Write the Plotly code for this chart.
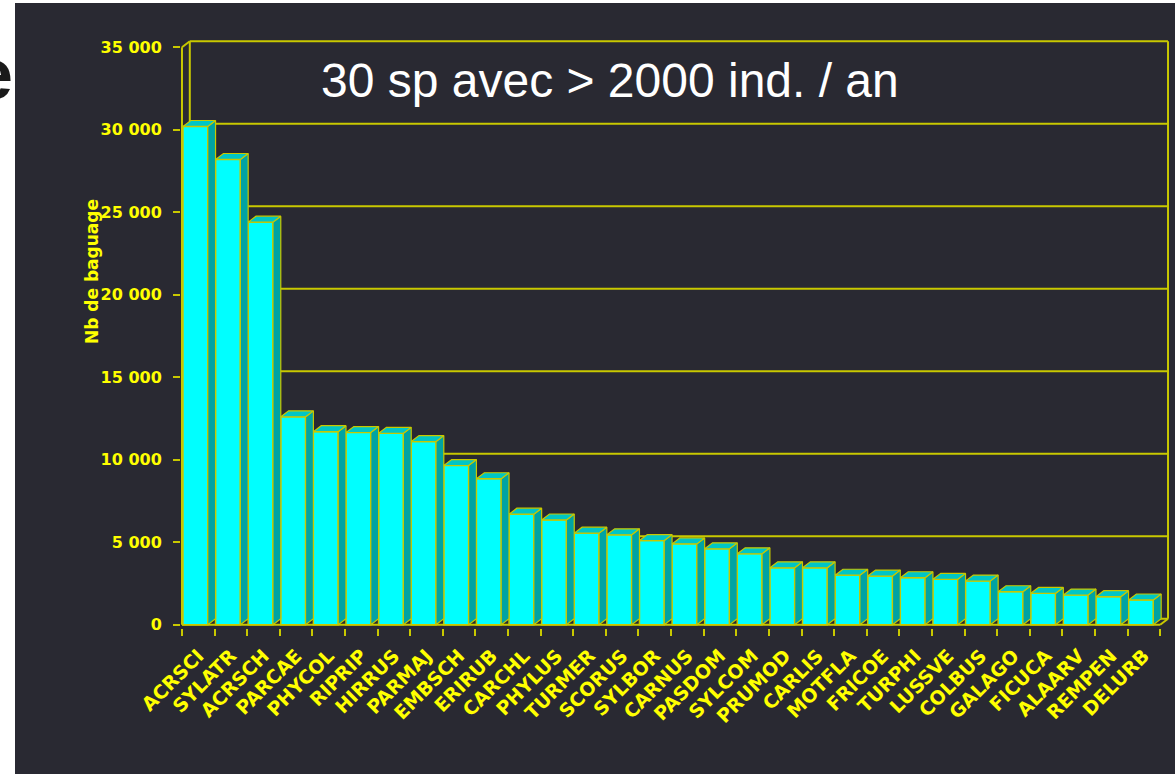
import plotly.graph_objects as go

species = ["ACRSCI", "SYLATR", "ACRSCH", "PARCAE", "PHYCOL", "RIPRIP", "HIRRUS", "PARMAJ",
           "EMBSCH", "ERIRUB", "CARCHL", "PHYLUS", "TURMER", "SCORUS", "SYLBOR", "CARNUS",
           "PASDOM", "SYLCOM", "PRUMOD", "CARLIS", "MOTFLA", "FRICOE", "TURPHI", "LUSSVE",
           "COLBUS", "GALAGO", "FICUCA", "ALAARV", "REMPEN", "DELURB"]
counts = [30200, 28200, 24400, 12600, 11700, 11650, 11600, 11100,
          9650, 8850, 6700, 6350, 5550, 5450, 5100, 4900,
          4600, 4300, 3450, 3450, 3000, 2950, 2850, 2750,
          2650, 2000, 1900, 1800, 1700, 1500]
y_ticks = [0, 5000, 10000, 15000, 20000, 25000, 30000, 35000]
y_tick_text = ["0", "5 000", "10 000", "15 000", "20 000", "25 000", "30 000", "35 000"]

title_text = "30 sp avec > 2000 ind. / an"
y_title = "Nb de baguage"

BG = "#292932"
YEL = "#ffff00"
EDGE = "#c8c800"
CYAN = "#00ffff"
SIDE = "#00a3a3"
TOP = "#00c6c6"

W, H = 1175, 774
ML, MR, MT, MB = 181, 6, 38, 146

n = len(species)
xs = list(range(n))
DX, DY = 0.24, 360          # depth offset in data units
BW, OFF = 0.76, -0.47       # bar width and offset inside slot
YMAX = y_ticks[-1]

x_lo, x_hi = -0.5, n - 0.5
xr = [x_lo - 0.03, x_hi + DX + 0.03]
yr = [-200, YMAX + DY + 200]

def px_x(p):
    return (p - ML) / (W - ML - MR)

def px_y(p):
    return (H - MB - p) / (H - MT - MB)

def seg(x0, y0, x1, y1, width=2):
    return dict(type="line", xref="x", yref="y", x0=x0, y0=y0, x1=x1, y1=y1,
                line=dict(color=EDGE, width=width), layer="below")

shapes = [
    dict(type="rect", xref="paper", yref="paper", x0=px_x(0), x1=px_x(15), y0=px_y(H), y1=px_y(0),
         fillcolor="white", line=dict(width=0), layer="below"),
    dict(type="rect", xref="paper", yref="paper", x0=px_x(0), x1=px_x(W), y0=px_y(3), y1=px_y(0),
         fillcolor="white", line=dict(width=0), layer="below"),
]
# back wall grid lines with left-wall diagonals
for t in y_ticks:
    shapes.append(seg(x_lo, t, x_lo + DX, t + DY))
    shapes.append(seg(x_lo + DX, t + DY, x_hi + DX, t + DY))
# frame: back-left edge, right edge, front y-axis, floor front edge, floor right diagonal
shapes.append(seg(x_lo + DX, DY, x_lo + DX, YMAX + DY))
shapes.append(seg(x_hi + DX, DY, x_hi + DX, YMAX + DY))
shapes.append(seg(x_lo, 0, x_lo, YMAX))
shapes.append(seg(x_lo, 0, x_hi, 0))
shapes.append(seg(x_hi, 0, x_hi + DX, DY))

fig = go.Figure()

# front faces
fig.add_trace(go.Bar(x=xs, y=counts, width=BW, offset=OFF,
                     marker=dict(color=CYAN, line=dict(color=EDGE, width=1.5)),
                     showlegend=False))

# side faces and top faces of bars
sx, sy, tx, ty = [], [], [], []
for i, v in zip(xs, counts):
    left = i + OFF
    right = i + OFF + BW
    sx += [right, right + DX, right + DX, right, right, None]
    sy += [0, DY, v + DY, v, 0, None]
    tx += [left, left + DX, right + DX, right, left, None]
    ty += [v, v + DY, v + DY, v, v, None]
fig.add_trace(go.Scatter(x=sx, y=sy, mode="lines", fill="toself", fillcolor=SIDE,
                         line=dict(color=EDGE, width=1.2), hoverinfo="skip", showlegend=False))
fig.add_trace(go.Scatter(x=tx, y=ty, mode="lines", fill="toself", fillcolor=TOP,
                         line=dict(color=EDGE, width=1.2), hoverinfo="skip", showlegend=False))

fig.update_layout(
    width=W, height=H,
    margin=dict(l=ML, r=MR, t=MT, b=MB),
    paper_bgcolor=BG, plot_bgcolor="rgba(0,0,0,0)",
    showlegend=False,
    xaxis=dict(range=xr, tickmode="array", tickvals=xs, ticktext=species,
               tickangle=-45, ticks="", ticklen=0, showgrid=False, zeroline=False,
               showline=False, ticklabelstandoff=12,
               tickfont=dict(family="DejaVu Sans", size=19, color=YEL, weight="bold"),
               minor=dict(tickmode="array", tickvals=[i - 0.5 for i in xs] + [x_hi],
                          ticks="outside", ticklen=7, tickwidth=2, tickcolor=EDGE, showgrid=False)),
    yaxis=dict(range=yr, tickmode="array", tickvals=y_ticks, ticktext=y_tick_text,
               ticks="outside", ticklen=7, tickwidth=2, tickcolor=EDGE,
               showgrid=False, zeroline=False, showline=False, ticklabelstandoff=8,
               tickfont=dict(family="DejaVu Sans", size=16, color=YEL, weight="bold")),
    shapes=shapes,
    annotations=[
        dict(text=title_text, xref="paper", yref="paper", x=px_x(610), y=px_y(80),
             xanchor="center", yanchor="middle", showarrow=False,
             font=dict(family="Liberation Sans", size=48, color="white")),
        dict(text=y_title, xref="paper", yref="paper", x=px_x(92), y=px_y(272),
             xanchor="center", yanchor="middle", textangle=-90, showarrow=False,
             font=dict(family="DejaVu Sans", size=17, color=YEL, weight="bold")),
        dict(text="<b>e</b>", xref="paper", yref="paper", x=px_x(15), y=px_y(74),
             xanchor="right", yanchor="middle", showarrow=False,
             font=dict(family="Liberation Sans", size=72, color="#1a1a1a")),
    ],
)

fig.write_html("out.html", config={"displayModeBar": False},
               post_script="document.body.style.margin='0';document.body.style.background='#ffffff';")
